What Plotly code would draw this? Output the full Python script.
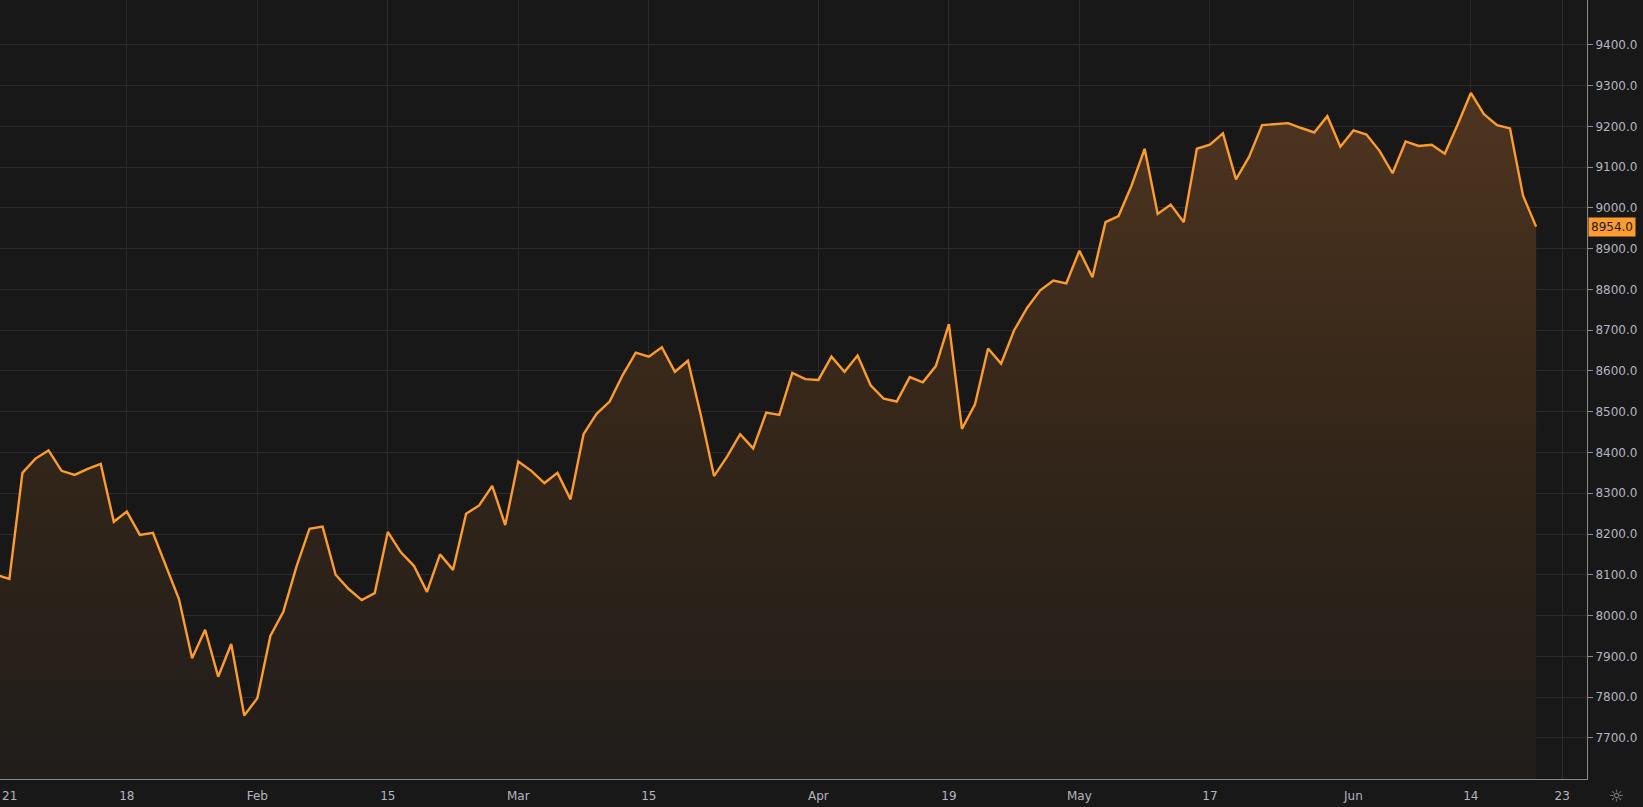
import plotly.graph_objects as go

dates = ["Jan 4","Jan 5","Jan 6","Jan 7","Jan 8","Jan 11","Jan 12","Jan 13","Jan 14","Jan 15",
"Jan 18","Jan 19","Jan 20","Jan 21","Jan 22","Jan 25","Jan 26","Jan 27","Jan 28","Jan 29",
"Feb 1","Feb 2","Feb 3","Feb 4","Feb 5","Feb 8","Feb 9","Feb 10","Feb 11","Feb 12",
"Feb 15","Feb 16","Feb 17","Feb 18","Feb 19","Feb 22","Feb 23","Feb 24","Feb 25","Feb 26",
"Mar 1","Mar 2","Mar 3","Mar 4","Mar 5","Mar 8","Mar 9","Mar 10","Mar 11","Mar 12",
"Mar 15","Mar 16","Mar 17","Mar 18","Mar 19","Mar 22","Mar 23","Mar 24","Mar 25","Mar 26",
"Mar 29","Mar 30","Mar 31","Apr 1","Apr 6","Apr 7","Apr 8","Apr 9","Apr 12","Apr 13",
"Apr 14","Apr 15","Apr 16","Apr 19","Apr 20","Apr 21","Apr 22","Apr 23","Apr 26","Apr 27",
"Apr 28","Apr 29","Apr 30","May 3","May 4","May 5","May 6","May 7","May 10","May 11",
"May 12","May 13","May 14","May 17","May 18","May 19","May 20","May 21","May 24","May 25",
"May 26","May 27","May 28","May 31","Jun 1","Jun 2","Jun 3","Jun 4","Jun 7","Jun 8",
"Jun 9","Jun 10","Jun 11","Jun 14","Jun 15","Jun 16","Jun 17","Jun 18","Jun 21"]

values = [8100,8090,8350,8385,8405,8355,8345,8360,8372,8230,
8255,8198,8203,8120,8040,7895,7965,7850,7930,7755,
7797,7950,8010,8120,8213,8218,8100,8065,8038,8055,
8205,8155,8122,8058,8150,8112,8250,8270,8318,8222,
8378,8355,8325,8350,8285,8445,8495,8525,8590,8645,
8635,8658,8598,8625,8490,8342,8390,8445,8410,8498,
8492,8595,8580,8578,8635,8598,8638,8565,8532,8525,
8585,8572,8612,8715,8458,8518,8655,8618,8700,8755,
8798,8822,8815,8895,8830,8965,8980,9055,9145,8985,
9008,8965,9145,9155,9183,9070,9125,9203,9205,9208,
9196,9185,9225,9150,9190,9180,9140,9085,9163,9152,
9155,9133,9205,9282,9230,9203,9195,9030,8954]

tick_dates = ["Jan 18","Feb 1","Feb 15","Mar 1","Mar 15","Apr 1","Apr 19","May 3","May 17","Jun 1","Jun 14"]
tick_texts = ["18","Feb","15","Mar","15","Apr","19","May","17","Jun","14"]
extra_tick_text = "23"   # Jun 23, two sessions after last point
y_ticks = [7700,7800,7900,8000,8100,8200,8300,8400,8500,8600,8700,8800,8900,9000,9100,9200,9300,9400]

x = list(range(len(values)))
tickvals = [dates.index(d) for d in tick_dates] + [len(values) - 1 + 2]
ticktext = tick_texts + [extra_tick_text]

bg = "#181818"
grid = "#2b2b2b"
fig = go.Figure()
fig.add_trace(go.Scatter(
    x=x, y=values, mode="lines",
    line=dict(color="#ff9b2f", width=2.4),
    fill="tozeroy",
    fillgradient=dict(type="vertical", start=7600, stop=9300,
                      colorscale=[[0, "#201d1b"], [0.5, "#342619"], [1, "#4f3520"]]),
    hoverinfo="skip", showlegend=False))

fig.update_layout(
    width=1643, height=807, paper_bgcolor=bg, plot_bgcolor=bg,
    margin=dict(l=0, r=56, t=0, b=28),
    font=dict(family="DejaVu Sans", color="#b2b5be", size=12),
    xaxis=dict(range=[0.28, 121.9], tickvals=tickvals, ticktext=ticktext,
               showgrid=True, gridcolor=grid, zeroline=False,
               showline=True, linecolor="#8a8a8a", linewidth=1,
               ticks="outside", ticklen=6, tickcolor=bg,
               tickfont=dict(size=12, color="#b2b5be")),
    yaxis=dict(range=[7599, 9510], side="right", tickmode="array", tickvals=y_ticks,
               ticktext=[f"{v:.1f}" for v in y_ticks],
               showgrid=True, gridcolor=grid, zeroline=False,
               showline=True, linecolor="#8a8a8a", linewidth=1,
               ticks="outside", ticklen=5, tickcolor="#8a8a8a",
               tickfont=dict(size=12, color="#b2b5be")),
)
fig.add_annotation(x=1, xref="paper", y=values[-1], yref="y", xanchor="left",
                   text=f"{values[-1]:.1f}", showarrow=False, bgcolor="#ff9b2f",
                   font=dict(color="#1a1a1a", size=12), borderpad=2, xshift=1)
fig.add_annotation(x=0, xref="paper", y=-0.022, yref="paper", xanchor="left", yanchor="middle",
                   text="21", showarrow=False, font=dict(size=12, color="#b2b5be"))
fig.add_annotation(x=1, xref="paper", y=-0.022, yref="paper", xanchor="left", yanchor="middle",
                   xshift=20, text="☼", showarrow=False, font=dict(size=17, color="#8a8a8a"))
fig.write_html("out.html", config={"displayModeBar": False},
               post_script="document.body.style.margin='0';document.body.style.background='#181818';")
